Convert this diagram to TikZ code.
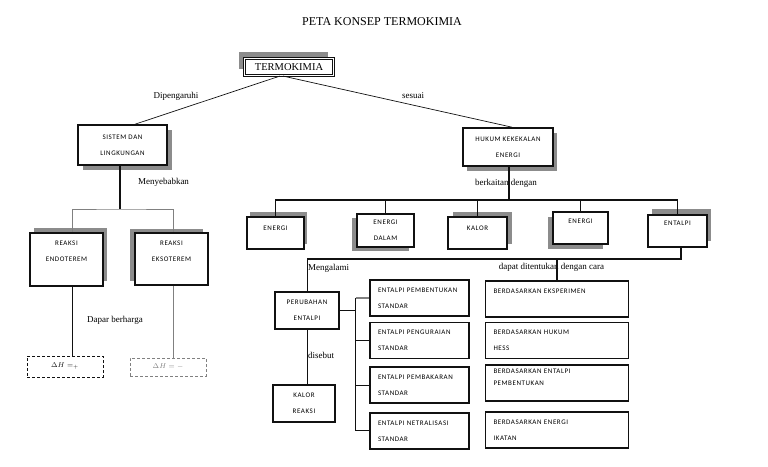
\documentclass[tikz,border=0pt]{standalone}
\usepackage{fontspec}
\setmainfont{Liberation Serif}
\newfontfamily\boxfont[LetterSpace=8]{Carlito}
\usepackage{tikz}
\usetikzlibrary{positioning,shadows,calc}
\definecolor{Ink}{HTML}{111111}
\definecolor{Shadow}{HTML}{8C8C8C}
\definecolor{Rule}{HTML}{808080}
\tikzset{
  concept/.style={draw=Ink,fill=white,line width=1.6pt,align=center,inner sep=0pt,font=\boxfont\fontsize{7}{16}\selectfont},
  listbox/.style={draw=Ink,fill=white,line width=1.6pt,align=left,inner xsep=8pt,inner ysep=0pt,minimum height=36pt,font=\boxfont\fontsize{7}{16}\selectfont},
  castshadow/.style 2 args={general shadow={fill=Shadow,shadow xshift=#1,shadow yshift=#2}},
  deltabox/.style={draw=#1,text=#1,dash pattern=on 3pt off 2pt,line width=0.9pt,minimum width=76pt,inner sep=0pt,font=\fontsize{7}{8}\selectfont},
  deltabox/.default=Ink,
  tag/.style={font=\fontsize{9}{10}\selectfont,inner sep=1pt},
  link/.style={draw=Ink,line width=1.3pt},
  plainlink/.style={draw=Ink,line width=0.7pt},
  greylink/.style={draw=Rule,line width=0.7pt}
}
\begin{document}
\begin{tikzpicture}[x=1pt,y=-1pt]
  \useasboundingbox (0,0) rectangle (768,466);
  \node[font=\fontsize{12}{14}\selectfont] (title) at (382,22) {PETA KONSEP TERMOKIMIA};

  \node[draw=Ink,fill=white,line width=1.1pt,double,double distance=0.8pt,minimum width=89pt,minimum height=17pt,inner sep=0pt,font=\fontsize{10.5}{12}\selectfont,castshadow={-6pt}{7pt}] (termo) at (289,67) {TERMOKIMIA};

  % left branch
  \node[concept,minimum width=89pt,minimum height=40pt,castshadow={5pt}{-5pt}] (sistem) at (122.5,145) {SISTEM DAN\\LINGKUNGAN};
  \node[concept,minimum width=73pt,minimum height=53pt,castshadow={4pt}{5pt}] (endo) at (66.5,259.5) {REAKSI\\ENDOTEREM\\\mbox{}};
  \node[concept,minimum width=73pt,minimum height=52pt,castshadow={-5pt}{4pt}] (ekso) at (171.5,259) {REAKSI\\EKSOTEREM\\\mbox{}};
  \node[deltabox,minimum height=21pt] (dhplus) at (65,366.5) {$\Delta H =_{+}$};
  \node[deltabox=Rule,minimum height=18pt] (dhminus) at (168,367) {$\Delta H = -$};

  % right branch
  \node[concept,minimum width=90pt,minimum height=38pt,castshadow={4pt}{-5pt}] (hukum) at (508,147) {HUKUM KEKEKALAN\\ENERGI};
  \node[concept,minimum width=57pt,minimum height=32pt,text depth=10pt,castshadow={3pt}{5pt}] (energiA) at (275.5,233) {ENERGI};
  \node[concept,minimum width=57pt,minimum height=33pt,castshadow={-5pt}{-4pt}] (dalam) at (385.5,230.5) {ENERGI\\DALAM};
  \node[concept,minimum width=59pt,minimum height=32pt,text depth=10pt,castshadow={5pt}{5pt}] (kalor) at (477.5,233) {KALOR};
  \node[concept,minimum width=55pt,minimum height=32pt,text depth=14pt,castshadow={-5pt}{-5pt}] (energiB) at (580.5,228) {ENERGI};
  \node[concept,minimum width=59pt,minimum height=32pt,text depth=16pt,castshadow={4pt}{6pt}] (entalpi) at (677.5,231) {ENTALPI};

  \node[concept,line width=1.2pt,minimum width=64pt,minimum height=37pt] (perubahan) at (307,310.5) {PERUBAHAN\\ENTALPI};
  \node[concept,line width=1.2pt,minimum width=62pt,minimum height=37pt] (kalorreaksi) at (304,403.5) {KALOR\\REAKSI};

  \node[listbox,text width=83pt] (pembentukan) at (419.5,298) {ENTALPI PEMBENTUKAN\\STANDAR};
  \node[listbox,text width=83pt,below=5pt of pembentukan] (penguraian) {ENTALPI PENGURAIAN\\STANDAR};
  \node[listbox,text width=83pt,below=7pt of penguraian] (pembakaran) {ENTALPI PEMBAKARAN\\STANDAR};
  \node[listbox,text width=83pt,below=8pt of pembakaran] (netralisasi) {ENTALPI NETRALISASI\\STANDAR};

  \node[listbox,text width=127pt] (eksperimen) at (557,299) {BERDASARKAN EKSPERIMEN\\\mbox{}};
  \node[listbox,text width=127pt,below=4pt of eksperimen] (hess) {BERDASARKAN HUKUM\\HESS};
  \node[listbox,text width=127pt,below=5pt of hess] (entpemb) {BERDASARKAN ENTALPI\\[-4pt]PEMBENTUKAN\\[-4pt]\mbox{}};
  \node[listbox,text width=127pt,below=9pt of entpemb] (ikatan) {BERDASARKAN ENERGI\\IKATAN};

  % labels
  \node[tag] (dipengaruhi) at (176,96) {Dipengaruhi};
  \node[tag] (sesuai) at (413,96) {sesuai};
  \node[tag] (menyebabkan) at (163.5,182) {Menyebabkan};
  \node[tag] (berkaitan) at (506,183) {berkaitan dengan};
  \node[tag,anchor=west] (mengalami) at (307,268) {Mengalami};
  \node[tag] (ditentukan) at (551.5,267) {dapat ditentukan dengan cara};
  \node[tag] (berharga) at (115,320) {Dapar berharga};
  \node[tag] (disebut) at (321,355) {disebut};

  % connectors
  \draw[plainlink] ([xshift=-9pt]termo.south) -- ([xshift=12.5pt]sistem.north);
  \draw[plainlink] ([xshift=-6pt]termo.south) -- ([xshift=4pt]hukum.north);

  \coordinate (sisjoin) at (120,209);
  \draw[link] ([xshift=-2.5pt]sistem.south) -- (sisjoin);
  \draw[greylink] ([xshift=5.5pt]endo.north) |- (sisjoin) -| ([xshift=1.5pt]ekso.north);
  \draw[plainlink] ([xshift=5.5pt]endo.south) -- ([xshift=5.5pt]endo.south |- dhplus.north);
  \draw[greylink] ([xshift=2pt]ekso.south) -- ([xshift=2pt]ekso.south |- dhminus.north);

  \coordinate (hukjoin) at (509,200);
  \draw[link] ([xshift=1pt]hukum.south) -- (hukjoin);
  \foreach \n in {energiA,dalam,kalor,energiB,entalpi}{
    \draw[link] (\n.north) |- (hukjoin);
  }

  \coordinate (entbar) at (557,259);
  \draw[link] ([xshift=3.5pt]entalpi.south) |- (entbar) -| ([xshift=0.5pt]perubahan.north);
  \draw[link] (entbar) -- (eksperimen.north);
  \draw[link] ([xshift=0.5pt]perubahan.south) -- ([xshift=0.5pt]perubahan.south |- kalorreaksi.north);

  \coordinate (trunk) at ([xshift=16pt]perubahan.east);
  \draw[link] (perubahan.east) -- (trunk);
  \draw[link] (trunk |- pembentukan.west) -- (trunk |- netralisasi.west);
  \draw[greylink,line width=1.1pt] (trunk |- pembentukan.west) -- (pembentukan.west);
  \foreach \n in {penguraian,pembakaran,netralisasi}{
    \draw[link] (trunk |- \n.west) -- (\n.west);
  }
\end{tikzpicture}
\end{document}
